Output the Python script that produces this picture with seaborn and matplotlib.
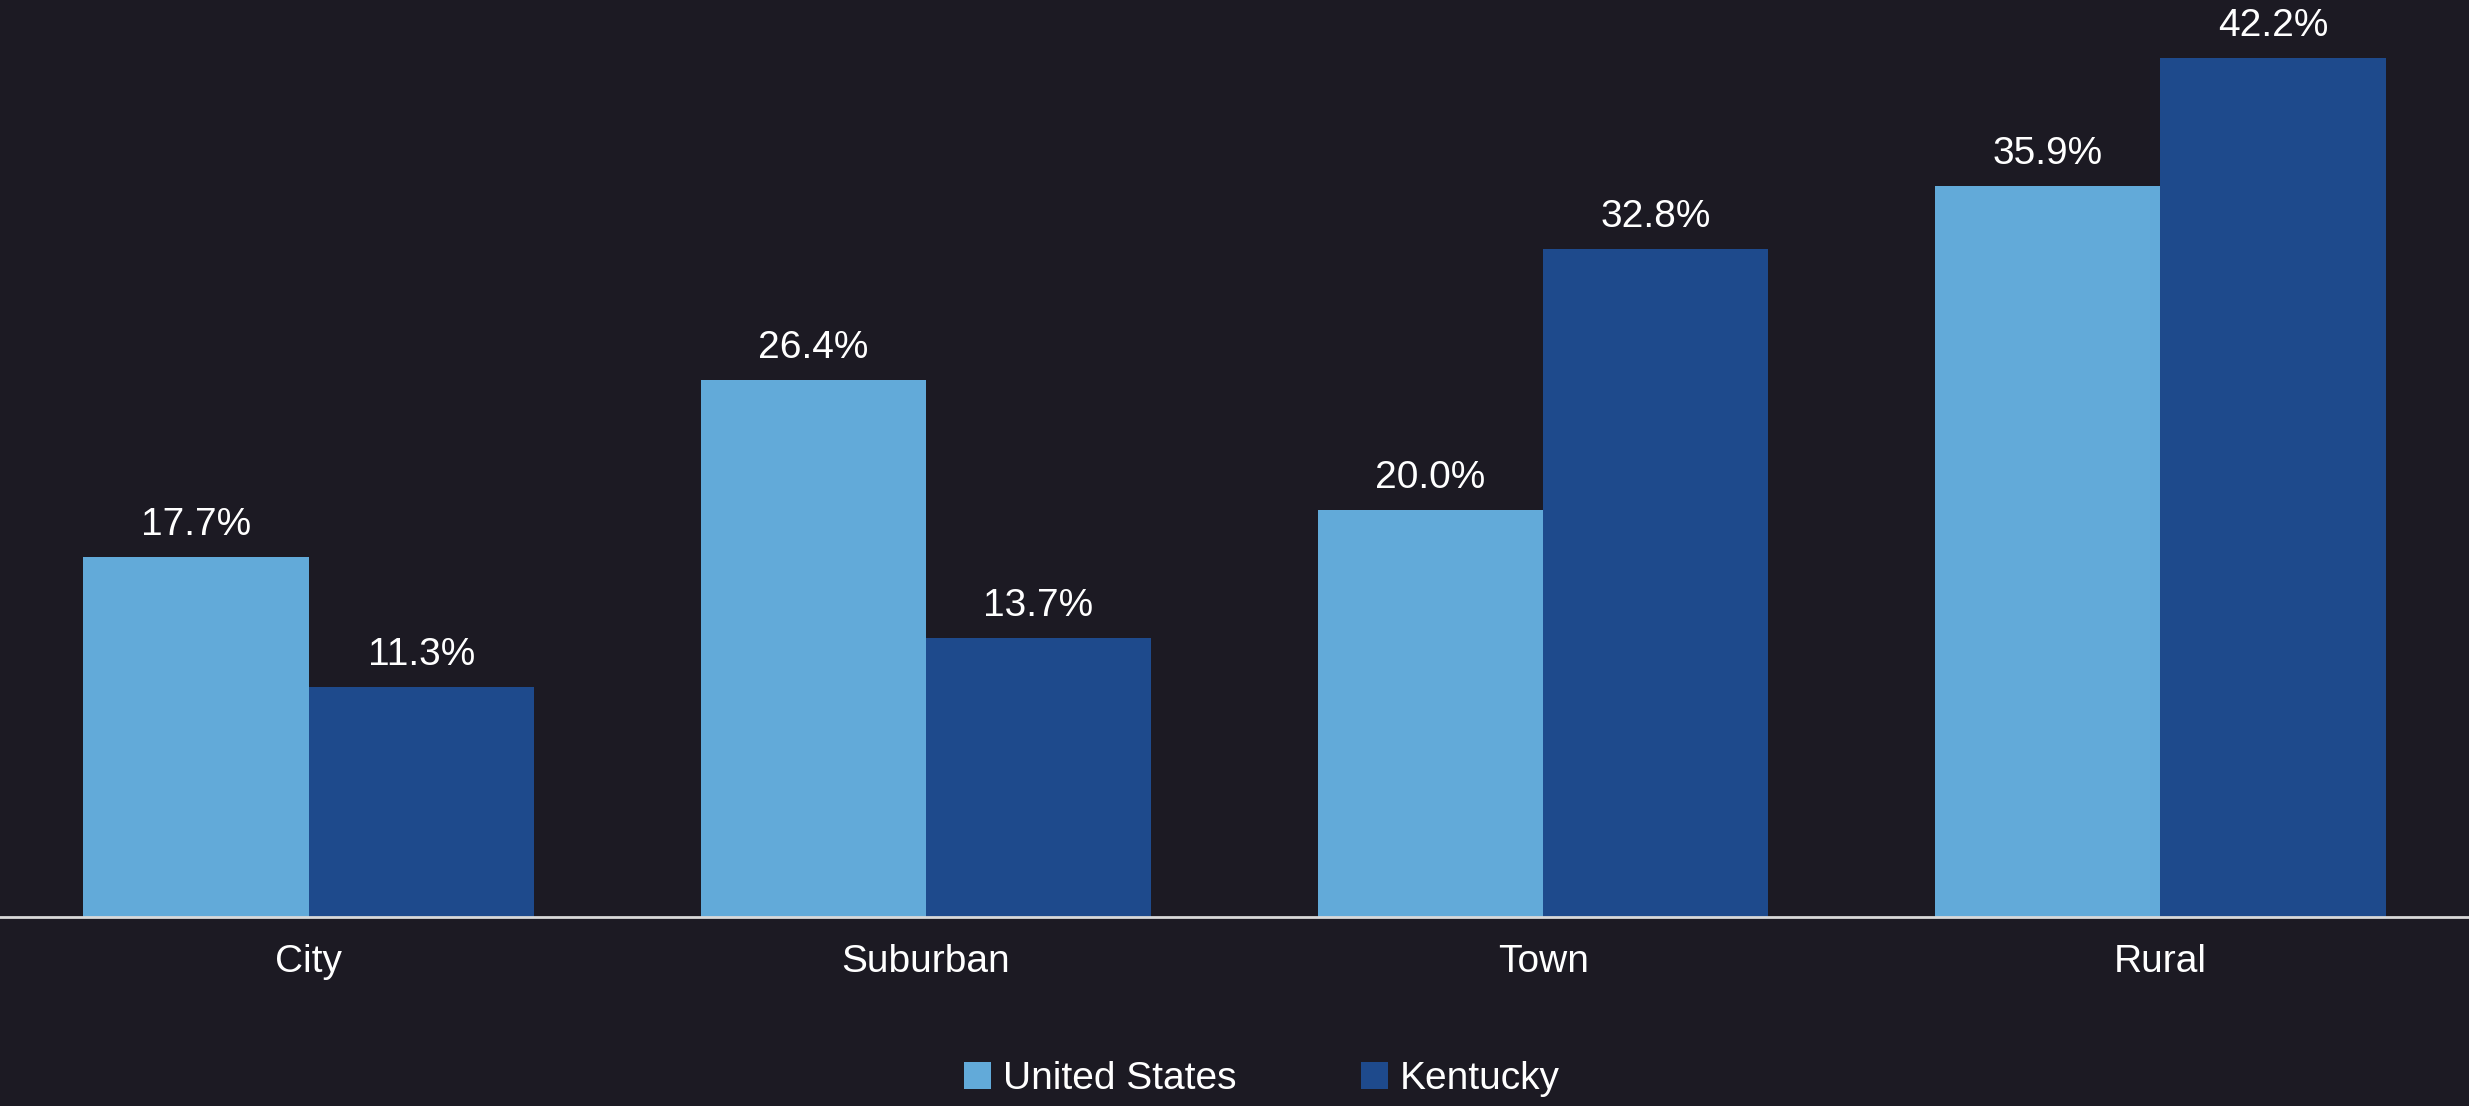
import pandas as pd
import seaborn as sns
import matplotlib.pyplot as plt
from matplotlib import font_manager

# Data
areas = ['City', 'Suburban', 'Town', 'Rural']
us_share = [17.7, 26.4, 20.0, 35.9]
ky_share = [11.3, 13.7, 32.8, 42.2]
series = ['United States', 'Kentucky']

df = pd.DataFrame({
    'Area': areas * 2,
    'Share': us_share + ky_share,
    'Region': [series[0]] * 4 + [series[1]] * 4,
})

bg = '#1c1a23'
colors = {'United States': '#62aad9', 'Kentucky': '#1e4a8c'}

sns.set_style('dark')
names = {f.name for f in font_manager.fontManager.ttflist}
font = 'Liberation Sans Narrow' if 'Liberation Sans Narrow' in names else 'Liberation Sans'
plt.rcParams['font.family'] = [font, 'DejaVu Sans']

fig = plt.figure(figsize=(24.69, 11.06), dpi=100, facecolor=bg)
ax = fig.add_axes([0, 0.1713, 1, 0.8287])
ax.set_facecolor(bg)

sns.barplot(data=df, x='Area', y='Share', hue='Region', palette=colors,
            width=0.73, saturation=1, linewidth=0, ax=ax, legend=True)

for cont in ax.containers:
    ax.bar_label(cont, fmt='%.1f%%', padding=10, color='white', fontsize=28)

ax.set_xlim(-0.5, 3.5)
ax.set_ylim(0, 45.06)
ax.set_xlabel('')
ax.set_ylabel('')
ax.set_yticks([])
ax.tick_params(axis='x', length=0, labelsize=28, colors='white', pad=20)
ax.grid(False)
for s in ['top', 'right', 'left']:
    ax.spines[s].set_visible(False)
ax.spines['bottom'].set_color('#d9d9d9')
ax.spines['bottom'].set_linewidth(2)

ax.get_legend().remove()
handles, labels = ax.get_legend_handles_labels()
fig.legend(handles[:2], labels[:2], loc='center', bbox_to_anchor=(0.511, 0.024),
           ncol=2, frameon=False, fontsize=28, labelcolor='white',
           handlelength=0.7, handleheight=0.7, handletextpad=0.3, columnspacing=3.2)

fig.savefig('out.png', dpi=100, facecolor=bg)
